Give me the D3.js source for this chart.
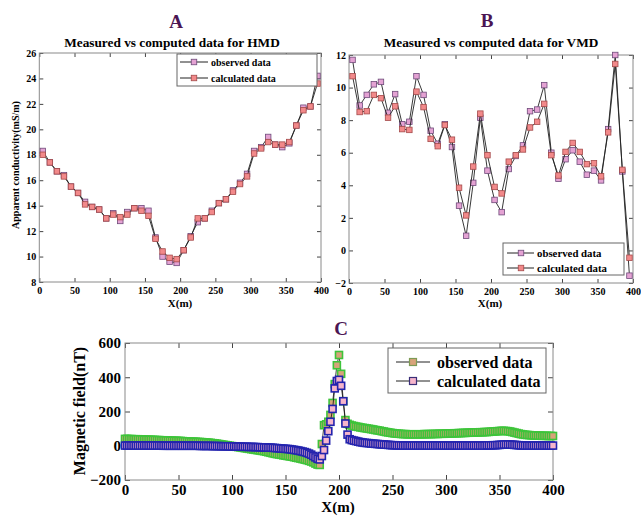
<!DOCTYPE html>
<html>
<head>
<meta charset="utf-8">
<script src="https://cdn.jsdelivr.net/npm/d3@7"></script>
<style>
  body { margin: 0; background: #fff; }
  text { font-family: "Liberation Serif", "Times New Roman", serif; font-weight: bold; }
</style>
</head>
<body>
<script>
// Station positions along the EM profile (m).
var stationX = [5, 15, 25, 35, 45, 55, 65, 75, 85, 95, 105, 115, 125, 135, 145, 155, 165, 175, 185, 195,
  205, 215, 225, 235, 245, 255, 265, 275, 285, 295, 305, 315, 325, 335, 345, 355, 365, 375, 385, 395];

// HMD apparent conductivity (mS/m).
var hmdObserved = [18.3, 17.4, 16.7, 16.4, 15.5, 15.0, 14.3, 13.9, 13.7, 13.0, 13.4, 12.8, 13.5, 13.8, 13.8, 13.6, 11.5, 10.0, 9.6, 9.5,
  10.5, 11.6, 12.7, 13.0, 13.6, 14.2, 14.5, 15.2, 15.8, 16.5, 18.3, 18.6, 19.4, 18.8, 18.6, 18.9, 20.3, 21.7, 21.8, 24.2];
var hmdCalculated = [18.0, 17.4, 16.7, 16.3, 15.5, 15.0, 14.1, 13.9, 13.7, 13.0, 13.3, 13.1, 13.3, 13.8, 13.6, 13.2, 11.4, 10.4, 9.9, 9.8,
  10.5, 11.5, 13.0, 13.0, 13.5, 14.2, 14.5, 15.1, 15.7, 16.3, 18.1, 18.5, 19.0, 18.8, 18.8, 19.0, 20.3, 21.5, 21.8, 23.6];

// VMD apparent conductivity (mS/m).
var vmdObserved = [11.7, 8.9, 9.55, 10.2, 10.35, 8.45, 9.6, 7.75, 7.9, 10.7, 9.55, 7.35, 6.55, 7.75, 6.35, 2.75, 0.9, 4.15, 8.15, 4.9,
  3.1, 2.35, 5.0, 5.8, 6.45, 8.55, 8.65, 10.15, 6.0, 4.4, 5.6, 6.15, 5.45, 4.65, 4.9, 4.3, 7.45, 12.0, 4.85, -1.55];
var vmdCalculated = [10.7, 8.5, 8.55, 9.55, 9.35, 8.15, 8.85, 7.45, 7.4, 9.75, 8.8, 6.85, 6.4, 7.7, 6.8, 3.85, 2.15, 5.15, 8.4, 5.85,
  3.9, 3.5, 5.45, 5.85, 6.2, 7.55, 7.9, 9.0, 5.85, 4.6, 6.05, 6.6, 6.05, 5.3, 5.35, 4.55, 7.25, 11.45, 4.95, -0.45];

// Magnetic profile, sampled every 2 m from 0 to 400 m.
var magX = d3.range(0, 401, 2);
var magObserved = [40, 40, 39, 39, 38, 38, 38, 37, 37, 36, 36,
  35, 35, 34, 34, 33, 33, 32, 32, 31, 31,
  30, 30, 29, 29, 28, 28, 27, 26, 26, 25,
  24, 24, 23, 22, 22, 21, 20, 19, 18, 17,
  15, 14, 12, 10, 8, 6, 4, 2, 0, -2,
  -4, -6, -8, -10, -12, -14, -16, -18, -20, -22,
  -24, -26, -28, -30, -32, -35, -38, -41, -44, -47,
  -49, -51, -53, -56, -58, -60, -62, -64, -67, -70,
  -72, -75, -78, -81, -84, -88, -92, -97, -104, -110,
  -112, 10, 120, 125, 140, 180, 250, 360, 470, 530,
  420, 260, 150, 128, 122, 118, 115, 112, 110, 107,
  105, 103, 101, 99, 97, 95, 92, 90, 88, 85,
  83, 80, 78, 76, 74, 72, 71, 70, 69, 68,
  68, 67, 67, 67, 67, 67, 67, 67, 67, 68,
  68, 68, 68, 69, 69, 69, 70, 70, 70, 71,
  71, 72, 72, 73, 73, 74, 74, 75, 75, 76,
  76, 77, 77, 78, 78, 79, 79, 80, 80, 81,
  82, 83, 84, 85, 86, 87, 87, 86, 85, 83,
  80, 77, 74, 71, 68, 66, 64, 63, 62, 61,
  60, 60, 59, 59, 58, 58, 58, 57, 57, 57];
var magCalculated = [1, 1, 1, 1, 1, 1, 1, 1, 1, 1, 1,
  1, 1, 1, 1, 1, 1, 1, 0, 0, 0,
  0, 0, 0, 0, 0, 0, 0, 0, 0, 0,
  0, 0, 0, 0, -1, -1, -1, -1, -1, -1,
  -2, -2, -2, -2, -3, -3, -3, -3, -4, -4,
  -4, -5, -5, -5, -6, -6, -6, -7, -7, -7,
  -8, -8, -9, -9, -10, -10, -11, -11, -12, -13,
  -14, -15, -16, -17, -18, -19, -20, -22, -24, -26,
  -28, -31, -34, -37, -41, -46, -52, -60, -68, -76,
  -80, -60, -25, 30, 85, 140, 215, 335, 378, 385,
  350, 260, 130, 65, 38, 33, 30, 27, 24, 21,
  19, 17, 16, 15, 13, 12, 11, 10, 9, 8,
  7, 6, 5, 4, 3, 3, 2, 2, 2, 1,
  1, 1, 1, 1, 1, 1, 1, 1, 1, 1,
  1, 1, 1, 1, 1, 1, 1, 1, 1, 1,
  1, 1, 1, 1, 1, 1, 1, 1, 1, 1,
  1, 1, 1, 1, 1, 1, 1, 1, 2, 2,
  2, 3, 3, 4, 5, 6, 7, 7, 7, 7,
  6, 5, 4, 3, 2, 2, 1, 1, 1, 1,
  1, 1, 1, 1, 1, 1, 1, 1, 1, 1];

// Tick values.
var distanceTicks = [0, 50, 100, 150, 200, 250, 300, 350, 400];
var hmdTicks = [8, 10, 12, 14, 16, 18, 20, 22, 24, 26];
var vmdTicks = [-2, 0, 2, 4, 6, 8, 10, 12];
var magTicks = [-200, 0, 200, 400, 600];

// Marker styles.
var emObsStyle = { fill: '#e4a2d3', stroke: '#6e4a7a', size: 5.5, sw: 0.8, line: '#222', lw: 0.9 };
var emCalStyle = { fill: '#f2898a', stroke: '#a44a4a', size: 5.5, sw: 0.8, line: '#222', lw: 0.9 };
var magObsStyle = { fill: '#d8a37a', stroke: '#3ec43a', size: 7, sw: 1.6, line: '#111', lw: 0.8 };
var magCalStyle = { fill: '#f6b5cb', stroke: '#2424ae', size: 7, sw: 1.6, line: '#111', lw: 0.8 };
var titleColor = '#4b1553';

var svg = d3.select('body').append('svg').attr('width', 641).attr('height', 516);

/**
 * Draw a MATLAB style boxed axes with inward ticks on every side.
 */
function drawPanel(p) {
  var x = d3.scaleLinear().domain(p.xDomain).range([p.left, p.right]);
  var y = d3.scaleLinear().domain(p.yDomain).range([p.bottom, p.top]);
  var g = svg.append('g');

  var axes = [
    [d3.axisBottom(x).tickValues(p.xTicks), 'translate(0,' + p.bottom + ')', true, p.padX],
    [d3.axisTop(x).tickValues(p.xTicks), 'translate(0,' + p.top + ')', false, 0],
    [d3.axisLeft(y).tickValues(p.yTicks), 'translate(' + p.left + ',0)', true, p.padY],
    [d3.axisRight(y).tickValues(p.yTicks), 'translate(' + p.right + ',0)', false, 0]
  ];
  axes.forEach(function(a) {
    var axis = a[0].tickSize(-p.tick).tickPadding(a[3]);
    if (!a[2]) axis.tickFormat('');
    var ag = g.append('g').attr('transform', a[1]).call(axis);
    ag.select('.domain').remove();
    ag.selectAll('line').attr('stroke', '#444');
    ag.selectAll('text').attr('font-size', p.font).attr('fill', '#000');
  });

  g.append('rect')
    .attr('x', p.left).attr('y', p.top)
    .attr('width', p.right - p.left).attr('height', p.bottom - p.top)
    .attr('fill', 'none').attr('stroke', '#8a8a8a').attr('stroke-width', 1);

  return { x: x, y: y, g: g };
}

// Line plus square markers for one series.
function drawSeries(panel, xs, ys, st) {
  var line = d3.line()
    .x(function(d, i) { return panel.x(xs[i]); })
    .y(function(d) { return panel.y(d); });

  panel.g.append('path').datum(ys)
    .attr('d', line).attr('fill', 'none')
    .attr('stroke', st.line).attr('stroke-width', st.lw);

  panel.g.append('g').selectAll('rect').data(ys).enter().append('rect')
    .attr('x', function(d, i) { return panel.x(xs[i]) - st.size / 2; })
    .attr('y', function(d) { return panel.y(d) - st.size / 2; })
    .attr('width', st.size).attr('height', st.size)
    .attr('fill', st.fill).attr('stroke', st.stroke).attr('stroke-width', st.sw);
}

function drawLegend(b, labels, sts) {
  var g = svg.append('g');
  g.append('rect').attr('x', b.x).attr('y', b.y).attr('width', b.w).attr('height', b.h)
    .attr('fill', '#fff').attr('stroke', '#666').attr('stroke-width', 1);
  labels.forEach(function(label, i) {
    var ry = b.rows[i], st = sts[i];
    g.append('line').attr('x1', b.lineX[0]).attr('x2', b.lineX[1]).attr('y1', ry).attr('y2', ry)
      .attr('stroke', '#222').attr('stroke-width', 1);
    g.append('rect').attr('x', b.markX - st.size / 2).attr('y', ry - st.size / 2)
      .attr('width', st.size).attr('height', st.size)
      .attr('fill', st.fill).attr('stroke', b.markStroke ? b.markStroke[i] : st.stroke)
      .attr('stroke-width', b.markWidth || st.sw);
    g.append('text').attr('x', b.textX).attr('y', ry).attr('dy', '0.35em')
      .attr('font-size', b.font).text(label);
  });
}

function label(x, y, txt, size, opts) {
  opts = opts || {};
  var t = svg.append('text').attr('x', x).attr('y', y)
    .attr('font-size', size).attr('text-anchor', 'middle')
    .attr('fill', opts.color || '#000').text(txt);
  if (opts.rotate) t.attr('transform', 'rotate(-90,' + x + ',' + y + ')');
  return t;
}

// Panel A : HMD
var panelA = drawPanel({ left: 39.3, right: 321, top: 53, bottom: 282, xDomain: [0, 400], yDomain: [8, 26],
  xTicks: distanceTicks, yTicks: hmdTicks, tick: 4, font: 10, padX: 5, padY: 3 });
drawSeries(panelA, stationX, hmdObserved, emObsStyle);
drawSeries(panelA, stationX, hmdCalculated, emCalStyle);
drawLegend({ x: 177, y: 54, w: 140, h: 32, rows: [62, 78], lineX: [180, 208], markX: 194, textX: 211, font: 10 },
  ['observed data', 'calculated data'], [emObsStyle, emCalStyle]);
label(176, 28, 'A', 19, { color: titleColor });
label(172, 46.5, 'Measured vs computed data for HMD', 13.3);
label(180, 307, 'X(m)', 11);
label(19, 165, 'Apparent conductivity(mS/m)', 10, { rotate: true });

// Panel B : VMD
var panelB = drawPanel({ left: 349, right: 633, top: 55, bottom: 283, xDomain: [0, 400], yDomain: [-2, 12],
  xTicks: distanceTicks, yTicks: vmdTicks, tick: 4, font: 10, padX: 5, padY: 3 });
drawSeries(panelB, stationX, vmdObserved, emObsStyle);
drawSeries(panelB, stationX, vmdCalculated, emCalStyle);
drawLegend({ x: 503, y: 243, w: 121, h: 32, rows: [253, 268], lineX: [507, 534], markX: 521, textX: 537, font: 10.8 },
  ['observed data', 'calculated data'], [emObsStyle, emCalStyle]);
label(487, 27, 'B', 19, { color: titleColor });
label(491, 46.5, 'Measured vs computed data for VMD', 13.3);
label(490, 307, 'X(m)', 11);

// Panel C : magnetics
var panelC = drawPanel({ left: 125, right: 553, top: 343, bottom: 480, xDomain: [0, 400], yDomain: [-200, 600],
  xTicks: distanceTicks, yTicks: magTicks, tick: 5, font: 15, padX: 4, padY: 4 });
drawSeries(panelC, magX, magObserved, magObsStyle);
drawSeries(panelC, magX, magCalculated, magCalStyle);
drawLegend({ x: 388, y: 348, w: 158, h: 45, rows: [362, 381], lineX: [396, 430], markX: 413, textX: 437, font: 16,
  markStroke: ['#7d9a55', '#3a2f78'], markWidth: 1.2 },
  ['observed data', 'calculated data'], [magObsStyle, magCalStyle]);
label(341, 335, 'C', 19, { color: titleColor });
label(338, 511.5, 'X(m)', 15);
label(85, 411, 'Magnetic field(nT)', 16, { rotate: true });
</script>
</body>
</html>
